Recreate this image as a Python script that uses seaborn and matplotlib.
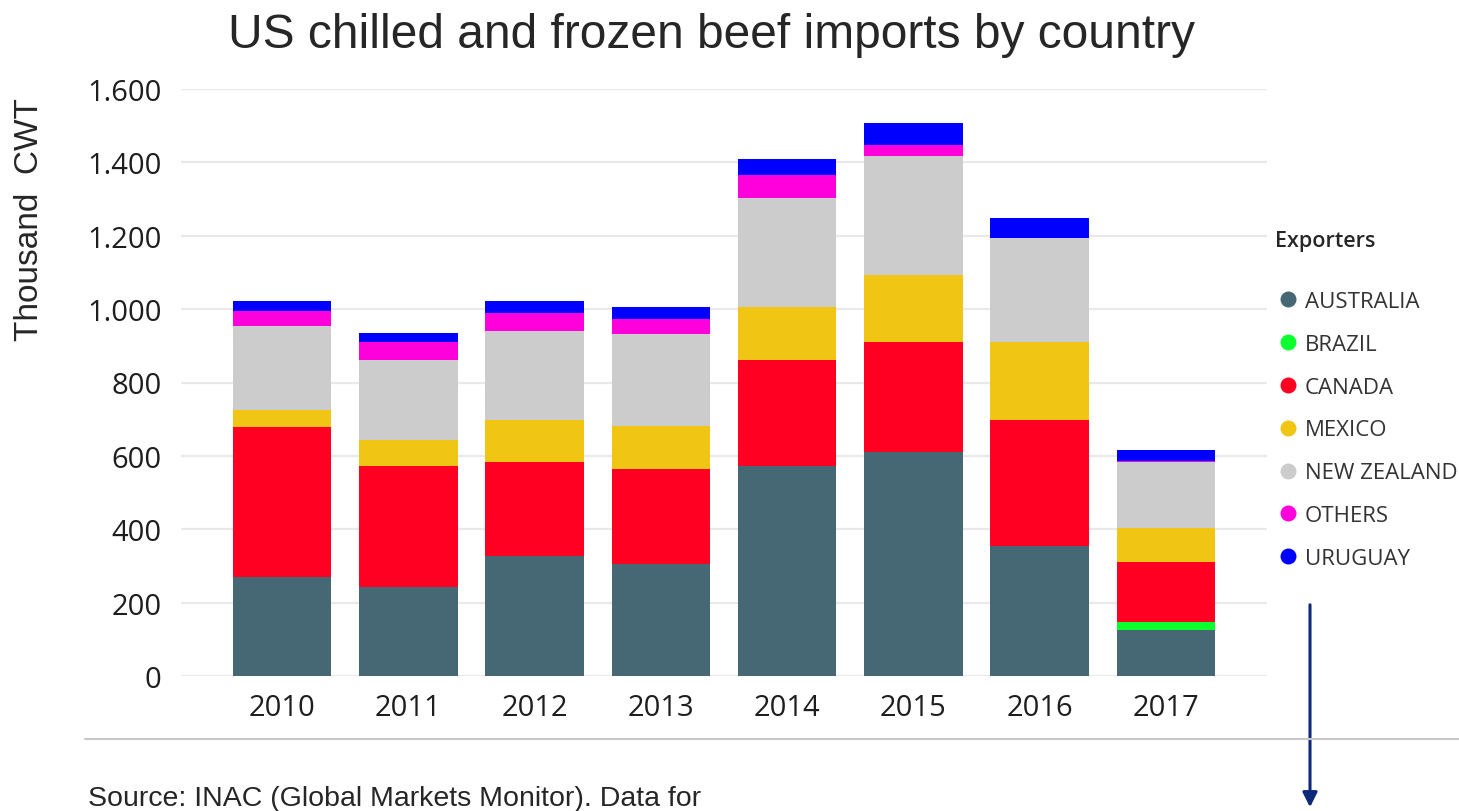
import matplotlib
matplotlib.use("Agg")
import pandas as pd
import matplotlib.pyplot as plt
import seaborn as sns
from matplotlib.lines import Line2D
from matplotlib.ticker import FuncFormatter

# values (thousand CWT)
years = ['2010', '2011', '2012', '2013', '2014', '2015', '2016', '2017']
exporters = ['AUSTRALIA', 'BRAZIL', 'CANADA', 'MEXICO', 'NEW ZEALAND', 'OTHERS', 'URUGUAY']
australia = [270, 243, 327, 305, 572, 610, 354, 125]
brazil = [0, 0, 0, 0, 0, 0, 0, 21]
canada = [410, 330, 256, 259, 289, 300, 344, 166]
mexico = [46, 71, 116, 118, 145, 184, 212, 91]
new_zealand = [227, 216, 242, 250, 297, 324, 283, 180]
others = [42, 51, 48, 40, 62, 29, 2, 2]
uruguay = [26, 23, 33, 35, 45, 59, 53, 30]
colors = ['#466875', '#0cff2e', '#ff0022', '#f0c514', '#cccccc', '#ff00dc', '#0000ff']

df = pd.DataFrame({'year': years, 'AUSTRALIA': australia, 'BRAZIL': brazil,
                   'CANADA': canada, 'MEXICO': mexico, 'NEW ZEALAND': new_zealand,
                   'OTHERS': others, 'URUGUAY': uruguay})
cum = df[exporters].cumsum(axis=1)
cum['year'] = df['year']

sns.set_style('white')
plt.rcParams['font.family'] = ['Open Sans', 'DejaVu Sans']

fig = plt.figure(figsize=(14.59, 8.12), dpi=100)
ax = fig.add_axes([181 / 1459, 1 - 677 / 812, (1267 - 181) / 1459, (677 - 90) / 812])

# stacked bars: draw cumulative totals from the top series down
for name, col in reversed(list(zip(exporters, colors))):
    sns.barplot(data=cum, x='year', y=name, color=col, saturation=1,
                width=0.78, linewidth=0, ax=ax)

ax.set_ylim(0, 1600)
ax.set_xlim(-0.8, 7.8)
ax.set_yticks(range(0, 1601, 200))
ax.yaxis.set_major_formatter(FuncFormatter(lambda v, p: f'{v:,.0f}'.replace(',', '.')))
ax.grid(axis='y', color='#e9e9e9', linewidth=1.6)
ax.set_axisbelow(True)
for s in ax.spines.values():
    s.set_visible(False)
ax.tick_params(axis='both', length=0, labelsize=21, labelcolor='#1e1e1e')
ax.tick_params(axis='y', pad=14)
ax.tick_params(axis='x', pad=12)
ax.set_xlabel('')
ax.set_ylabel('')

fig.text(711 / 1459, 1 - 35 / 812, 'US chilled and frozen beef imports by country',
         ha='center', va='center', fontsize=34.5, family='Liberation Sans')
fig.text(30 / 1459, 1 - 220 / 812, 'Thousand  CWT', rotation=90, ha='center',
         va='center', fontsize=24, family='Liberation Sans')
fig.text(88 / 1459, 1 - 806 / 812, 'Source: INAC (Global Markets Monitor). Data for',
         ha='left', va='baseline', fontsize=20.5, family='Liberation Sans')

handles = [Line2D([], [], marker='o', linestyle='', markersize=11.5,
                  markerfacecolor=c, markeredgewidth=0) for c in colors]
leg = ax.legend(handles, exporters, loc='upper left', bbox_to_anchor=(1266 / 1459, 1 - 222 / 812),
                bbox_transform=fig.transFigure, frameon=False, title='Exporters',
                alignment='left', fontsize=16, labelspacing=0.98, handletextpad=0.15,
                handlelength=1.2, borderaxespad=0)
leg.get_title().set_fontsize(15.5)
leg.get_title().set_fontweight('semibold')
leg._legend_box.sep = 29
for t in leg.get_texts():
    t.set_color('#333333')

fig.add_artist(Line2D([85 / 1459, 1], [1 - 740 / 812] * 2, transform=fig.transFigure,
                      color='#c8c8c8', linewidth=1.5))
ax.annotate('', xy=(1310 / 1459, 1 - 811 / 812), xytext=(1310 / 1459, 1 - 603 / 812),
            xycoords='figure fraction', textcoords='figure fraction',
            arrowprops=dict(arrowstyle='-|>', color='#0d2a78', lw=2.2, mutation_scale=22),
            annotation_clip=False)

fig.savefig('out.png', dpi=100)
